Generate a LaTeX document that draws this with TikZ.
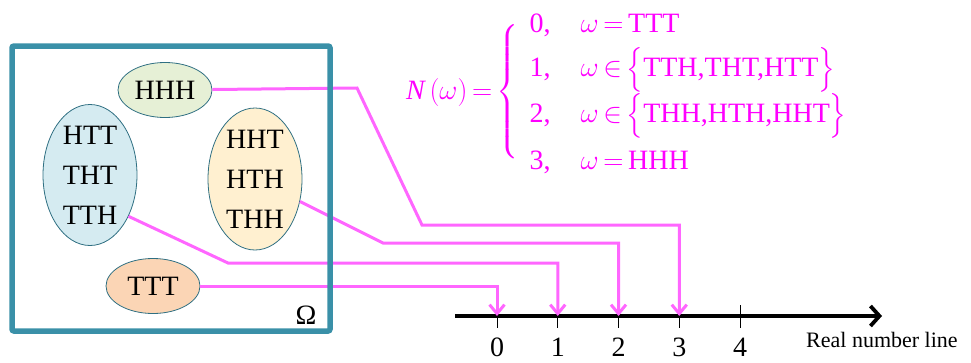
\documentclass[tikz,border=0pt]{standalone}
\usepackage{fix-cm}
\usepackage{amsmath}
\usepackage{fontspec}
\setmainfont{Liberation Serif}
\usepackage{tikz}
\usetikzlibrary{arrows.meta,positioning,shapes.geometric,calc}
\definecolor{omegateal}{HTML}{3A90A8}
\definecolor{evline}{HTML}{2F6F82}
\definecolor{fillgreen}{HTML}{E6F0D6}
\definecolor{fillblue}{HTML}{D5EBF1}
\definecolor{fillgold}{HTML}{FFF0D0}
\definecolor{fillpeach}{HTML}{FBD5B5}
\definecolor{mappink}{HTML}{FF66FF}
\definecolor{mathpink}{HTML}{FF00FF}

\begin{document}
\begin{tikzpicture}[x=1pt,y=-1pt,
		ev/.style={ellipse,draw=evline,line width=0.8pt,inner sep=0pt,align=center,minimum width=94pt,font=\fontsize{28}{40}\selectfont},
		m/.style={-{Straight Barb[length=9pt,width=15pt]},draw=mappink,line width=3pt},
		axis/.style={-{Straight Barb[length=9pt,width=20pt]},draw=black,line width=3.8pt},
		tick/.style={draw=black,line width=1pt},
		numlab/.style={inner sep=0pt,font=\fontsize{28}{32}\selectfont}
		]
		\useasboundingbox (0,0) rectangle (971,362);

		% Sample space events
		\node[ev,fill=fillgreen,minimum height=55pt] (hhh) at (165,90) {HHH};
		\node[ev,fill=fillblue,minimum height=141pt] (one) at (90,175) {HTT\\THT\\TTH};
		\node[ev,fill=fillgold,minimum height=142pt] (two) at (255,179) {HHT\\HTH\\THH};
		\node[ev,fill=fillpeach,minimum height=55pt] (ttt) at (153,286) {TTT};
		\node[inner sep=0pt,font=\fontsize{28}{30}\selectfont] (omlab) at (306,315) {Ω};

		% Random variable
		\node[anchor=west,inner sep=0pt,text=mathpink,font=\fontsize{28}{34}\selectfont] (nfun) at (406,92)
		{\thickmuskip=3mu
			$\textit{N}\;(\omega)=\left\{\vcenter to 135pt{}\right.\renewcommand{\arraystretch}{1.3}\smash{\begin{array}{@{\,}l@{\hspace{30pt}}l@{}}
				\text{0,} & \omega=\text{TTT}\\
				\text{1,} & \omega\in\bigl\{\text{TTH,THT,HTT}\bigr\}\\
				\text{2,} & \omega\in\bigl\{\text{THH,HTH,HHT}\bigr\}\\
				\text{3,} & \omega=\text{HHH}
			\end{array}}$};

		% Real number line
		\coordinate (ax0) at (455,316);
		\coordinate (ax1) at (882,316);
		\draw[axis] (ax0) -- (ax1);
		\foreach \i in {0,...,4} {
			\coordinate (t\i) at (497+60.75*\i,316);
			\draw[tick] ($(t\i)+(0,-11)$) -- ($(t\i)+(0,12)$);
			\node[numlab,below=22pt of t\i] (n\i) {\i};
		}
		\node[anchor=base west,inner sep=0pt,font=\fontsize{22}{24}\selectfont] (rnl) at (806,347) {Real number line};

		% Mapping
		\coordinate (k3) at (357,88);
		\coordinate (l3) at (422,225);
		\coordinate (l2) at (383,243);
		\coordinate (l1) at (228,263);
		\draw[m] (hhh) -- (k3) -- (l3) -- (l3 -| t3) -- (t3);
		\draw[m] (two) -- (l2) -- (l2 -| t2) -- (t2);
		\draw[m] (one.-47) -- (l1) -- (l1 -| t1) -- (t1);
		\draw[m] (ttt) -- (ttt -| t0) -- (t0);

		% Sample space box
		\node[draw=omegateal,line width=5.5pt,rounded corners=2pt,inner sep=0pt,minimum width=318pt,minimum height=285pt] (omega) at (171,188.5) {};
	\end{tikzpicture}
\end{document}
